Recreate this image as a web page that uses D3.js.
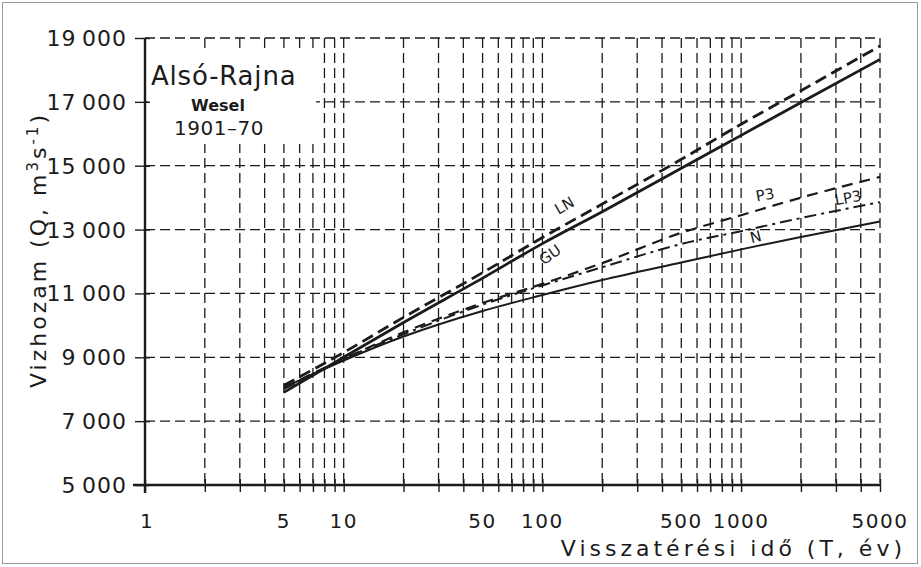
<!DOCTYPE html>
<html>
<head>
<meta charset="utf-8">
<script src="https://cdn.jsdelivr.net/npm/d3@7"></script>
<style>
  body { margin: 0; background: #fff; }
  svg { display: block; font-family: "DejaVu Sans", sans-serif; }
</style>
</head>
<body>
<svg id="chart" width="921" height="567"></svg>
<script>
// return periods (years) at which the curves were read
const periods = [5, 10, 20, 50, 100, 200, 500, 1000, 2000, 5000];

// discharge values (m3/s)
const lnValues  = [8120, 9150, 10250, 11650, 12750, 13800, 15200, 16300, 17350, 18750];
const guValues  = [7900, 9000, 10090, 11480, 12560, 13560, 14920, 15950, 16980, 18330];
const p3Values  = [8050, 8950, 9780, 10700, 11300, 11950, 12900, 13450, 14000, 14650];
const lp3Values = [8000, 8950, 9720, 10650, 11250, 11820, 12550, 12950, 13360, 13860];
const nValues   = [8050, 8900, 9650, 10450, 10950, 11420, 11970, 12380, 12770, 13250];

const yTicks = [5000, 7000, 9000, 11000, 13000, 15000, 17000, 19000];
const xTickLabels = [1, 5, 10, 50, 100, 500, 1000, 5000];

const svg = d3.select('#chart');
const ink = '#1b1b1b';

const x = d3.scaleLog().domain([1, 5000]).range([145, 880]);
const y = d3.scaleLinear().domain([5000, 19000]).range([485, 38]);

// outer frame
svg.append('rect')
    .attr('x', 2.5).attr('y', 2.5)
    .attr('width', 915).attr('height', 561)
    .attr('fill', 'none').attr('stroke', '#999').attr('stroke-width', 1);

// minor grid values 2..9 per decade
const gridX = [];
[1, 10, 100, 1000].forEach(d => {
    for (let k = 1; k <= 9; k++) {
        const v = k * d;
        if (v > 1 && v <= 5000) gridX.push(v);
    }
});

const grid = svg.append('g').attr('stroke', ink).attr('stroke-width', 1.3)
    .attr('stroke-dasharray', '10,5');

grid.selectAll('.vg').data(gridX).enter().append('line')
    .attr('x1', d => x(d)).attr('x2', d => x(d))
    .attr('y1', y(19000)).attr('y2', y(5000));

grid.selectAll('.hg').data(yTicks.filter(v => v > 5000)).enter().append('line')
    .attr('x1', x(1)).attr('x2', x(5000))
    .attr('y1', d => y(d)).attr('y2', d => y(d));

// white box behind the place name
svg.append('rect')
    .attr('x', 148).attr('y', 52)
    .attr('width', 168).attr('height', 92)
    .attr('fill', '#fff');

// axes
const xAxis = svg.append('g').attr('transform', `translate(0,${y(5000)})`)
    .call(d3.axisBottom(x).tickValues([1].concat(gridX)).tickSize(7).tickFormat(''));
xAxis.select('.domain').attr('d', `M${x(1) - 12},0H${x(5000)}`).attr('stroke-width', 2.4).attr('stroke', ink);
xAxis.selectAll('.tick line').attr('y1', -6).attr('y2', 7).attr('stroke-width', 1.4).attr('stroke', ink);

const yAxis = svg.append('g').attr('transform', `translate(${x(1)},0)`)
    .call(d3.axisLeft(y).tickValues(yTicks).tickSize(10).tickFormat(''));
yAxis.select('.domain').attr('d', `M0,${y(19000)}V${y(5000) + 8}`).attr('stroke-width', 2.4).attr('stroke', ink);
yAxis.selectAll('.tick line').attr('x1', -10).attr('x2', 5).attr('stroke-width', 1.4).attr('stroke', ink);

// tick labels
const fmt = v => d3.format(',')(v).replace(',', '\u2009');
svg.append('g').selectAll('text').data(yTicks).enter().append('text')
    .attr('x', 127).attr('y', d => y(d) + 8)
    .attr('text-anchor', 'end')
    .attr('font-size', 22).attr('letter-spacing', 1).attr('fill', ink)
    .text(d => fmt(d));

svg.append('g').selectAll('text').data(xTickLabels).enter().append('text')
    .attr('x', d => x(d) + (d === 1 ? 2 : 0)).attr('y', 528)
    .attr('text-anchor', 'middle')
    .attr('font-size', 20).attr('letter-spacing', 1.5).attr('fill', ink)
    .text(d => d);

// axis titles
svg.append('text')
    .attr('transform', 'translate(46,250) rotate(-90)')
    .attr('text-anchor', 'middle')
    .attr('font-size', 22).attr('letter-spacing', 3).attr('fill', ink)
    .html('Vizhozam (Q, m<tspan dy="-8" font-size="15">3</tspan><tspan dy="8">s</tspan><tspan dy="-8" font-size="15">-1</tspan><tspan dy="8">)</tspan>');

svg.append('text')
    .attr('x', 906).attr('y', 556)
    .attr('text-anchor', 'end')
    .attr('font-size', 22).attr('letter-spacing', 4).attr('fill', ink)
    .text('Visszatérési idő (T, év)');

// place name
svg.append('text').attr('x', 151).attr('y', 85)
    .attr('font-size', 26).attr('letter-spacing', 0.8).attr('fill', ink).text('Alsó-Rajna');
svg.append('text').attr('x', 218).attr('y', 111).attr('text-anchor', 'middle')
    .attr('font-size', 16).attr('font-weight', 'bold').attr('fill', ink).text('Wesel');
svg.append('text').attr('x', 219).attr('y', 135).attr('text-anchor', 'middle')
    .attr('font-size', 20).attr('letter-spacing', 0.5).attr('fill', ink).text('1901\u201370');

// curves
const series = [
    { name: 'N',   values: nValues,   width: 2,   dash: null },
    { name: 'LP3', values: lp3Values, width: 2,   dash: '12,5,3,5' },
    { name: 'P3',  values: p3Values,  width: 2.2, dash: '11,7' },
    { name: 'GU',  values: guValues,  width: 2.8, dash: null },
    { name: 'LN',  values: lnValues,  width: 2.8, dash: '12,6' }
];

const line = d3.line()
    .x(d => x(d[0]))
    .y(d => y(d[1]))
    .curve(d3.curveMonotoneX);

svg.append('g').selectAll('path').data(series).enter().append('path')
    .attr('d', s => line(periods.map((p, i) => [p, s.values[i]])))
    .attr('fill', 'none')
    .attr('stroke', ink)
    .attr('stroke-width', s => s.width)
    .attr('stroke-dasharray', s => s.dash);

// curve labels
const curveLabels = [
    { text: 'LN',  x: 567, y: 210, rot: -30 },
    { text: 'GU',  x: 553, y: 259, rot: -35 },
    { text: 'P3',  x: 766, y: 200, rot: -10 },
    { text: 'LP3', x: 849, y: 203, rot: -10 },
    { text: 'N',   x: 757, y: 242, rot: -14 }
];
svg.append('g').selectAll('text').data(curveLabels).enter().append('text')
    .attr('transform', d => `translate(${d.x},${d.y}) rotate(${d.rot})`)
    .attr('text-anchor', 'middle')
    .attr('font-size', 15).attr('fill', ink)
    .text(d => d.text);
</script>
</body>
</html>
